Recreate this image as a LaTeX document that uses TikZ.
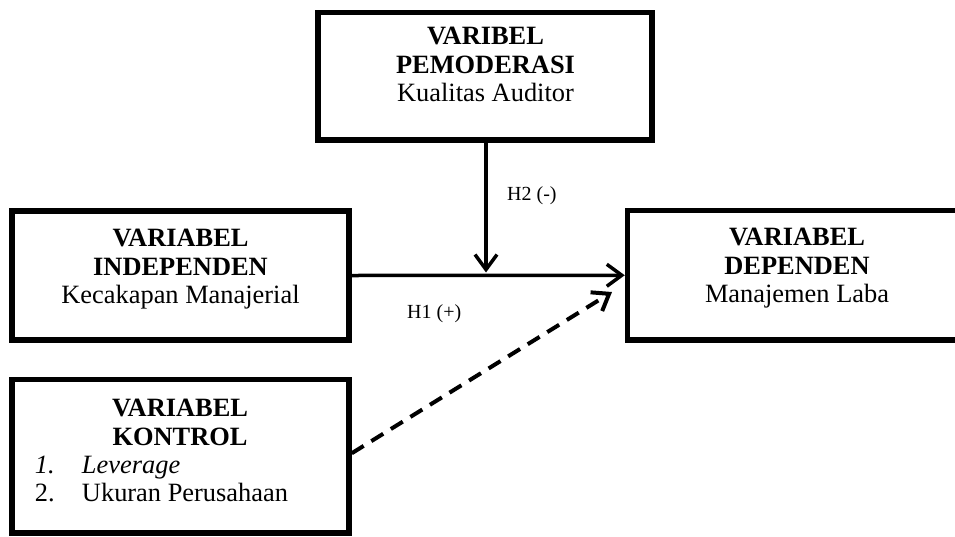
\documentclass[tikz,border=0pt]{standalone}
\usepackage{fontspec}
\setmainfont{Liberation Serif}
\usetikzlibrary{arrows.meta}
\begin{document}
\begin{tikzpicture}[x=1pt,y=-1pt,
  box/.style={draw=black, line width=5.5pt, inner sep=0pt, fill=none},
  txt/.style={inner sep=0pt, align=center, font=\fontsize{26.4}{28.4}\selectfont},
  lbl/.style={inner sep=0pt, font=\fontsize{20}{24}\selectfont},
  conn/.style={line width=3.5pt, -{Straight Barb[length=15pt,width=22pt]}},
  dconn/.style={line width=4pt, dash pattern=on 14pt off 9pt, -{Straight Barb[length=15pt,width=22pt]}}
]
\useasboundingbox (0,0) rectangle (955,536);
% boxes
\node[box, minimum width=334pt, minimum height=127.5pt] (mod) at (485,76.25) {};
\node[box, minimum width=337pt, minimum height=129pt] (ind) at (180.5,275.5) {};
\node[box, minimum width=340pt, minimum height=129.5pt] (dep) at (797.5,275.25) {};
\node[box, minimum width=337pt, minimum height=153.5pt] (kon) at (180.5,456.25) {};
% texts
\node[txt, anchor=north] (tmod) at (485.5,27.2) {\textbf{VARIBEL}\\\textbf{PEMODERASI}\\Kualitas Auditor};
\node[txt, anchor=north] (tind) at (180.5,229) {\textbf{VARIABEL}\\\textbf{INDEPENDEN}\\Kecakapan Manajerial};
\node[txt, anchor=north] (tdep) at (797,228) {\textbf{VARIABEL}\\\textbf{DEPENDEN}\\Manajemen Laba};
\node[inner sep=0pt, anchor=north, font=\fontsize{26.4}{28.4}\selectfont] (tkon) at (180,399) {%
\begin{minipage}{300pt}
{\centering\textbf{VARIABEL}\\\textbf{KONTROL}\par}
\hspace*{5pt}\makebox[47pt][l]{\textit{1.}}\textit{Leverage}\\
\hspace*{5pt}\makebox[47pt][l]{2.}Ukuran Perusahaan
\end{minipage}};
% labels
\node[lbl, anchor=base west] (h2) at (507,200) {H2 (-)};
\node[lbl, anchor=base west] (h1) at (407,318) {H1 (+)};
% connectors
\coordinate (m) at (486,275.5);
\coordinate (dt) at (612,292);
\draw[conn] (ind.east) -- (dep.west);
\draw[conn] (mod.south -| m) -- ([yshift=3pt]m);
\draw[dconn] ([yshift=3pt]kon.east) -- (dt);
\end{tikzpicture}
\end{document}
